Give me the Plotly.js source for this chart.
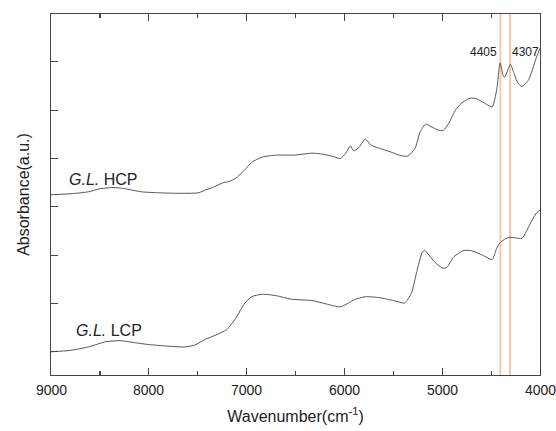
<!DOCTYPE html>
<html>
<head>
<meta charset="utf-8">
<script src="https://cdn.plot.ly/plotly-3.0.1.min.js"></script>
<style>html,body{margin:0;padding:0;background:#fff;}#chart{width:556px;height:431px;}</style>
</head>
<body>
<div id="chart"></div>
<script>
// Wavenumbers (cm^-1) and absorbance (a.u., offset)
const hcpWave = [9000,8800,8619,8510,8365,8256,8074,7893,7711,7493,7420,7348,7239,7185,7112,7021,6948,6840,6694,6513,6331,6222,6113,6041,5986,5939,5906,5859,5787,5732,5641,5532,5423,5351,5278,5224,5169,5115,5042,4988,4933,4861,4806,4715,4653,4580,4490,4443,4408,4378,4364,4335,4303,4269,4225,4184,4116,4044,4000];
const hcpAbs  = [3.25,3.27,3.31,3.37,3.40,3.38,3.31,3.29,3.28,3.29,3.35,3.40,3.50,3.52,3.59,3.76,3.92,4.03,4.07,4.07,4.11,4.09,4.04,4.00,4.11,4.26,4.16,4.21,4.40,4.28,4.21,4.14,4.06,4.05,4.21,4.56,4.71,4.66,4.59,4.58,4.73,5.01,5.14,5.25,5.24,5.16,5.07,5.42,5.98,5.72,5.68,5.80,5.95,5.78,5.56,5.49,5.63,6.05,6.28];
const lcpWave = [9000,8800,8619,8437,8292,8147,8001,7820,7638,7529,7420,7312,7203,7112,7021,6948,6840,6694,6549,6331,6186,6041,5950,5896,5787,5641,5496,5385,5315,5260,5206,5180,5151,5078,5006,4977,4951,4879,4788,4755,4697,4588,4490,4443,4407,4352,4313,4260,4184,4098,4044,4000];
const lcpAbs  = [0.00,0.03,0.10,0.21,0.23,0.19,0.15,0.12,0.10,0.14,0.26,0.35,0.46,0.69,1.00,1.14,1.19,1.16,1.09,1.06,0.99,0.93,1.02,1.08,1.14,1.12,1.06,1.01,1.21,1.66,2.05,2.10,2.04,1.86,1.74,1.73,1.75,1.97,2.09,2.10,2.09,2.00,1.91,2.14,2.26,2.34,2.37,2.36,2.35,2.66,2.85,2.94];
const markerWaves = [4405, 4307];
const markerLabels = ["4405", "4307"];
const sampleNames = ["HCP", "LCP"];
const yTicks = [0,1,2,3,4,5,6];
const xTicks = [9000,8000,7000,6000,5000,4000];
const xTickText = ["9000","8000","7000","6000","5000","4000"];

const lineStyle = {color:'#555555', width:1};
const traces = [
  {x:hcpWave, y:hcpAbs, type:'scatter', mode:'lines', line:Object.assign({shape:'spline', smoothing:0.6}, lineStyle), hoverinfo:'skip'},
  {x:lcpWave, y:lcpAbs, type:'scatter', mode:'lines', line:Object.assign({shape:'spline', smoothing:0.6}, lineStyle), hoverinfo:'skip'}
];

const font = "Liberation Sans, Arial, sans-serif";
const shapes = markerWaves.map(w => ({
  type:'line', xref:'x', yref:'paper', x0:w, x1:w, y0:0, y1:1,
  line:{color:'#f8c3a0', width:1.8}, layer:'below'
}));

const annotations = [
  {x:markerWaves[0]+15, y:6.21, xref:'x', yref:'y', text:markerLabels[0], showarrow:false, xanchor:'right', yanchor:'middle', font:{family:font, size:12, color:'#222'}},
  {x:markerWaves[1]-2, y:6.21, xref:'x', yref:'y', text:markerLabels[1], showarrow:false, xanchor:'left', yanchor:'middle', font:{family:font, size:12, color:'#222'}},
  {x:8837, y:3.56, xref:'x', yref:'y', text:'<i>G.L.</i> ' + sampleNames[0], showarrow:false, xanchor:'left', yanchor:'middle', font:{family:font, size:16, color:'#222'}},
  {x:8769, y:0.45, xref:'x', yref:'y', text:'<i>G.L.</i> ' + sampleNames[1], showarrow:false, xanchor:'left', yanchor:'middle', font:{family:font, size:16, color:'#222'}}
].concat(xTicks.map((v, i) => ({
  x:v, y:0, xref:'x', yref:'paper', text:xTickText[i], showarrow:false,
  xanchor:'center', yanchor:'middle', yshift:-15, font:{family:font, size:14, color:'#222'}
})));

const layout = {
  width:556, height:431,
  margin:{l:51, r:16, t:14, b:56, pad:0},
  paper_bgcolor:'#fff', plot_bgcolor:'#fff',
  showlegend:false,
  font:{family:font, color:'#222'},
  xaxis:{
    range:[9000,4000], tickvals:xTicks, showticklabels:false,
    ticks:'inside', ticklen:7, tickwidth:1.2, tickcolor:'#444',
    minor:{dtick:500, ticks:'inside', ticklen:4, tickwidth:1.2, tickcolor:'#444'},
    showline:true, linecolor:'#444', linewidth:1.3, mirror:'ticks',
    showgrid:false, zeroline:false,
    title:{text:'Wavenumber(cm<sup>-1</sup>)', font:{family:font, size:16, color:'#222'}, standoff:35}
  },
  yaxis:{
    range:[-0.48, 6.99], tickvals:yTicks, showticklabels:false,
    ticks:'inside', ticklen:7, tickwidth:1.2, tickcolor:'#444',
    showline:true, linecolor:'#444', linewidth:1.3, mirror:true,
    showgrid:false, zeroline:false,
    title:{text:'Absorbance(a.u.)', font:{family:font, size:16, color:'#222'}, standoff:16}
  },
  shapes:shapes,
  annotations:annotations
};

Plotly.newPlot('chart', traces, layout, {staticPlot:true, displayModeBar:false});
</script>
</body>
</html>
